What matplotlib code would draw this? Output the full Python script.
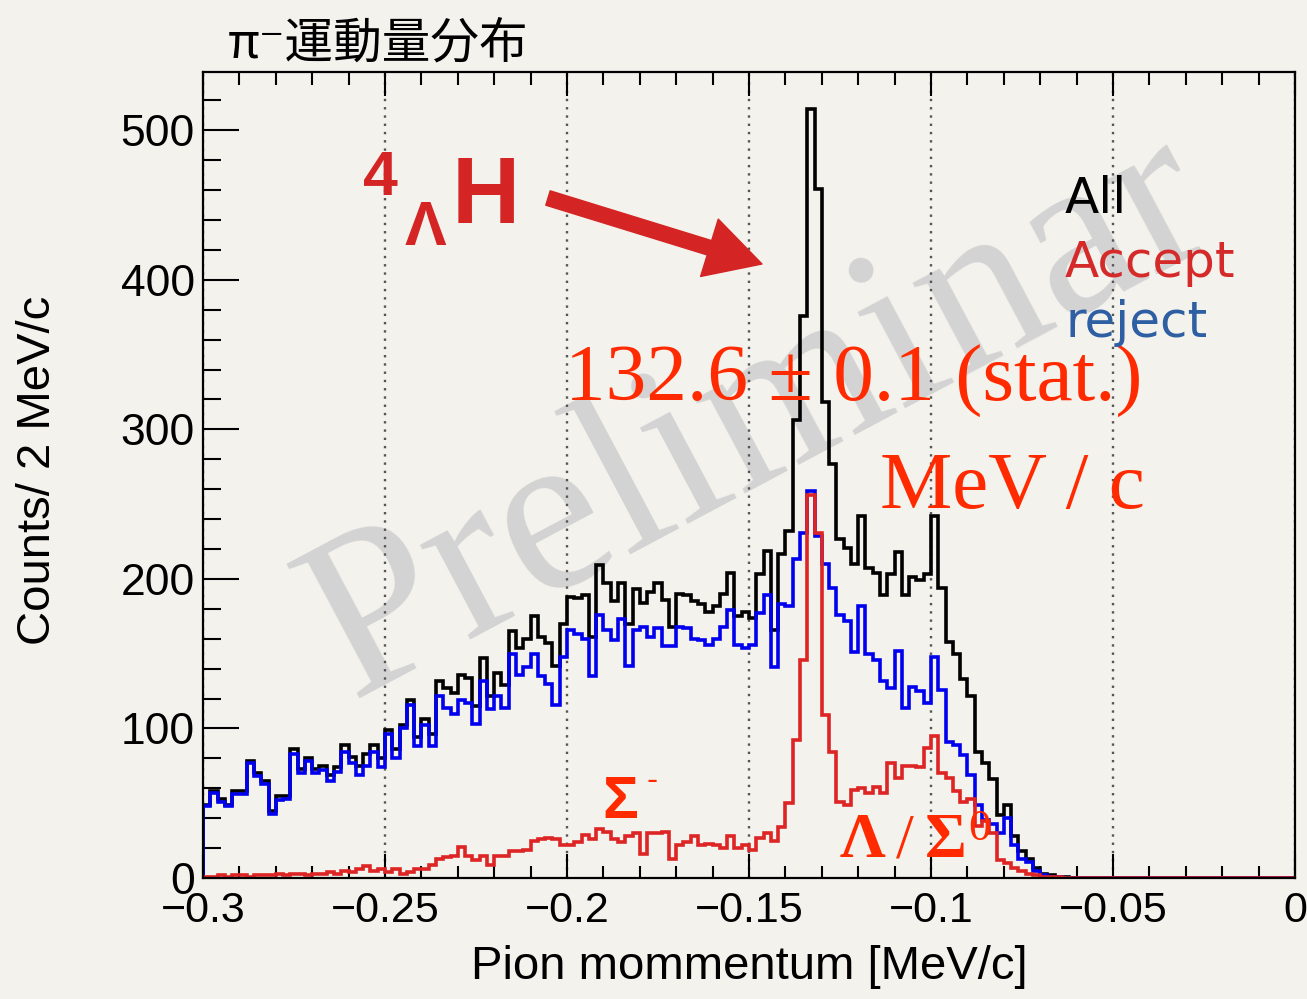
import numpy as np
import matplotlib
matplotlib.use("Agg")
import matplotlib.pyplot as plt
from matplotlib.ticker import MultipleLocator, FuncFormatter

W, H = 1307, 999
BG = "#f4f2ed"
RED_HIST = "#dd2525"
RED_ANN = "#d42424"
RED_TXT = "#ff2a00"

plt.rcParams['font.family'] = ['Liberation Sans', 'DejaVu Sans']

# π- 運動量ヒストグラム: -0.3 ~ 0, 2 MeV/c bins
x_min, x_max, n_bins = -0.3, 0.0, 150

all_counts = [
    49, 58, 53, 49, 58, 58, 78, 70, 65, 45,
    55, 55, 86, 73, 80, 73, 75, 69, 74, 89,
    81, 75, 83, 89, 80, 99, 86, 102, 119, 94,
    106, 96, 132, 127, 124, 136, 134, 115, 147, 122,
    137, 129, 165, 154, 160, 175, 161, 157, 142, 170,
    188, 187, 189, 161, 209, 197, 185, 197, 170, 193,
    184, 191, 197, 186, 168, 190, 189, 185, 183, 178,
    182, 190, 204, 175, 178, 174, 203, 219, 166, 217,
    232, 306, 376, 514, 461, 318, 277, 227, 221, 210,
    242, 207, 204, 189, 203, 218, 189, 201, 199, 203,
    242, 194, 158, 150, 133, 122, 84, 77, 66, 42,
    49, 28, 18, 13, 7, 3, 2, 1, 1, 0,
] + [0] * 30

accept_counts = [
    1, 1, 2, 1, 2, 2, 1, 2, 2, 2,
    3, 2, 3, 3, 2, 3, 3, 4, 3, 5,
    4, 6, 8, 5, 6, 4, 6, 3, 4, 6,
    6, 9, 13, 14, 15, 21, 15, 12, 15, 9,
    15, 15, 18, 18, 19, 25, 26, 27, 26, 22,
    22, 24, 29, 26, 33, 31, 26, 24, 28, 30,
    16, 30, 30, 31, 13, 22, 24, 28, 22, 23,
    22, 20, 28, 20, 22, 19, 27, 30, 25, 34,
    50, 92, 146, 256, 231, 109, 84, 51, 49, 59,
    60, 57, 61, 57, 77, 67, 75, 75, 74, 87,
    95, 70, 67, 58, 51, 53, 35, 38, 30, 12,
    10, 7, 5, 3, 2, 1, 1, 1, 0, 0,
] + [0] * 30

reject_counts = [
    48, 57, 51, 48, 56, 56, 77, 68, 63, 43,
    52, 53, 83, 70, 78, 70, 72, 65, 71, 84,
    77, 69, 75, 84, 74, 96, 80, 100, 116, 88,
    102, 88, 122, 114, 110, 119, 117, 103, 132, 113,
    122, 114, 150, 136, 141, 150, 135, 130, 116, 148,
    166, 163, 160, 135, 176, 166, 159, 173, 142, 166,
    168, 161, 167, 155, 155, 168, 167, 160, 159, 156,
    160, 168, 179, 156, 154, 156, 177, 189, 141, 183,
    182, 213, 231, 259, 229, 210, 194, 176, 172, 151,
    182, 150, 146, 132, 127, 152, 114, 128, 125, 117,
    148, 126, 91, 89, 82, 69, 49, 39, 36, 30,
    40, 22, 13, 11, 5, 2, 1, 1, 0, 0,
] + [0] * 30

edges = np.linspace(x_min, x_max, n_bins + 1)


def fpos(x, y):
    # ピクセル座標 -> figure fraction
    return x / W, 1 - y / H


fig = plt.figure(figsize=(W / 100, H / 100), dpi=100, facecolor=BG)
ax = fig.add_axes([203 / W, 1 - 878 / H, (1295 - 203) / W, (878 - 72) / H])
ax.set_facecolor('none')

ax.stairs(all_counts, edges, color='black', lw=2.6, zorder=2)
ax.stairs(reject_counts, edges, color='#0000ee', lw=2.6, zorder=2.1)
ax.stairs(accept_counts, edges, color=RED_HIST, lw=2.6, zorder=2.2)

ax.set_xlim(x_min, x_max)
ax.set_ylim(0, 539)

ax.xaxis.set_major_locator(MultipleLocator(0.05))
ax.xaxis.set_minor_locator(MultipleLocator(0.01))
ax.yaxis.set_major_locator(MultipleLocator(100))
ax.yaxis.set_minor_locator(MultipleLocator(20))


def fmt(v, pos):
    if abs(v) < 1e-9:
        return '0'
    return ('%g' % v).replace('-', '\u2212')


ax.xaxis.set_major_formatter(FuncFormatter(fmt))
ax.tick_params(axis='x', which='both', direction='in', top=True, bottom=True,
               labelsize=31, pad=9, width=1.5)
ax.tick_params(axis='x', which='major', length=17)
ax.tick_params(axis='x', which='minor', length=9)
ax.tick_params(axis='y', which='both', direction='in', left=True, right=False,
               labelsize=32, pad=6, width=1.5)
ax.tick_params(axis='y', which='major', length=26)
ax.tick_params(axis='y', which='minor', length=13)
for sp in ax.spines.values():
    sp.set_linewidth(1.6)

ax.set_axisbelow(True)
ax.grid(axis='x', which='major', linestyle=(0, (1, 2.5)), color='#555555', lw=1.7)

# 軸ラベル
fig.text(*fpos(749, 967), 'Pion mommentum [MeV/c]', fontsize=34, ha='center', va='center')
fig.text(*fpos(38, 470), 'Counts/ 2 MeV/c', fontsize=34, rotation=90, ha='center', va='center')

# タイトル
fig.text(*fpos(228, 58), 'π⁻運動量分布', fontsize=35,
         family=['Noto Sans CJK JP', 'DejaVu Sans'], va='baseline')

# Preliminary 透かし
ax.text(0.51, 0.57, 'Preliminar', transform=ax.transAxes, rotation=28,
        fontsize=168, family='Liberation Serif', color='#d3d3d3',
        ha='center', va='center', zorder=0.5)

# 4ΛH と矢印
fig.text(*fpos(363, 195), '4', fontsize=45, weight='bold', color=RED_ANN, va='baseline')
fig.text(*fpos(405, 245), 'Λ', fontsize=45, weight='bold', color=RED_ANN, va='baseline')
fig.text(*fpos(452, 223), 'H', fontsize=68, weight='bold', color=RED_ANN, va='baseline')
ax.annotate('', xy=fpos(762, 264), xytext=fpos(548, 198),
            xycoords='figure fraction', textcoords='figure fraction',
            arrowprops=dict(arrowstyle='simple,head_length=2.2,head_width=2.4,tail_width=0.6',
                            mutation_scale=18, color=RED_ANN, shrinkA=0, shrinkB=0))

# ピーク値
fig.text(*fpos(565, 401), '132.6 ± 0.1 (stat.)', fontsize=58.5, family='Liberation Serif',
         color=RED_TXT, va='baseline')
fig.text(*fpos(1145, 508), 'MeV / c', fontsize=58.5, family='Liberation Serif',
         color=RED_TXT, va='baseline', ha='right')

# 凡例
fig.text(*fpos(1065, 213), 'All', fontsize=36, family='DejaVu Sans', color='black', va='baseline')
fig.text(*fpos(1065, 277), 'Accept', fontsize=36, family='DejaVu Sans', color='#d42a2a', va='baseline')
fig.text(*fpos(1065, 337), 'reject', fontsize=36, family='DejaVu Sans', color='#2e5fa3', va='baseline')

# Σ- と Λ/Σ0
fig.text(*fpos(602, 818), 'Σ', fontsize=43, weight='bold', color=RED_TXT, va='baseline')
fig.text(*fpos(646, 790), '-', fontsize=24, color=RED_TXT, va='baseline')
fig.text(*fpos(840, 857), 'Λ', fontsize=46, weight='bold', family='Liberation Serif',
         color=RED_TXT, va='baseline')
fig.text(*fpos(896, 857), '/', fontsize=46, family='Liberation Serif', color=RED_TXT, va='baseline')
fig.text(*fpos(925, 857), 'Σ', fontsize=46, weight='bold', family='Liberation Serif',
         color=RED_TXT, va='baseline')
fig.text(*fpos(968, 840), '0', fontsize=32, family='Liberation Serif', color=RED_TXT, va='baseline')

fig.savefig('out.png', dpi=100, facecolor=BG)
